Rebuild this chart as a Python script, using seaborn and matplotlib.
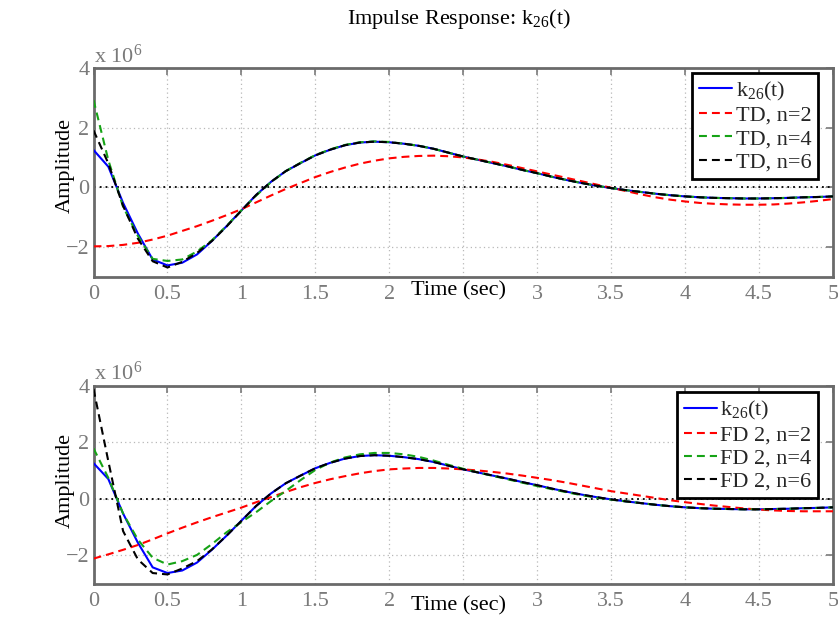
import numpy as np
import pandas as pd
import matplotlib
matplotlib.use("Agg")
import matplotlib.pyplot as plt
import seaborn as sns

# ---- data (amplitudes in units of 1e6) ----
t = np.round(np.arange(51) * 0.1, 1)

k26 = [1.26, 0.70, -0.52, -1.55, -2.42, -2.62, -2.53, -2.25, -1.80, -1.30,
       -0.77, -0.25, 0.19, 0.55, 0.82, 1.08, 1.27, 1.42, 1.51, 1.54,
       1.52, 1.47, 1.40, 1.30, 1.17, 1.04, 0.93, 0.82, 0.71, 0.59,
       0.48, 0.36, 0.25, 0.15, 0.06, -0.02, -0.09, -0.15, -0.21, -0.26,
       -0.30, -0.33, -0.35, -0.36, -0.37, -0.37, -0.36, -0.35, -0.33, -0.32,
       -0.30]

td_n2 = [-1.98, -1.97, -1.93, -1.86, -1.75, -1.62, -1.46, -1.30, -1.12, -0.93,
         -0.73, -0.50, -0.27, -0.05, 0.15, 0.35, 0.52, 0.67, 0.80, 0.90,
         0.98, 1.03, 1.06, 1.07, 1.05, 1.01, 0.94, 0.86, 0.76, 0.65,
         0.54, 0.43, 0.32, 0.21, 0.10, -0.01, -0.12, -0.23, -0.33, -0.41,
         -0.47, -0.52, -0.55, -0.57, -0.58, -0.58, -0.57, -0.54, -0.50, -0.45,
         -0.39]

td_n4 = [2.94, 0.92, -0.65, -1.63, -2.40, -2.47, -2.42, -2.15, -1.78, -1.29,
         -0.77, -0.27, 0.18, 0.55, 0.83, 1.09, 1.28, 1.43, 1.52, 1.55,
         1.53, 1.47, 1.40, 1.30, 1.17, 1.04, 0.93, 0.82, 0.71, 0.59,
         0.48, 0.36, 0.25, 0.15, 0.06, -0.02, -0.09, -0.15, -0.21, -0.26,
         -0.30, -0.33, -0.35, -0.36, -0.37, -0.37, -0.36, -0.35, -0.33, -0.32,
         -0.30]

td_n6 = [1.92, 0.81, -0.62, -1.72, -2.48, -2.69, -2.50, -2.20, -1.80, -1.31,
         -0.78, -0.25, 0.19, 0.55, 0.82, 1.08, 1.27, 1.42, 1.51, 1.54,
         1.52, 1.47, 1.40, 1.30, 1.17, 1.04, 0.93, 0.82, 0.71, 0.59,
         0.48, 0.36, 0.25, 0.15, 0.06, -0.02, -0.09, -0.15, -0.21, -0.26,
         -0.30, -0.33, -0.35, -0.36, -0.37, -0.37, -0.36, -0.35, -0.33, -0.32,
         -0.30]

fd_n2 = [-2.11, -1.96, -1.80, -1.63, -1.43, -1.22, -1.02, -0.83, -0.65, -0.48,
         -0.31, -0.12, 0.06, 0.24, 0.41, 0.56, 0.69, 0.80, 0.90, 0.98,
         1.04, 1.07, 1.09, 1.09, 1.07, 1.04, 1.00, 0.95, 0.89, 0.82,
         0.74, 0.66, 0.57, 0.47, 0.37, 0.27, 0.19, 0.11, 0.03, -0.05,
         -0.12, -0.18, -0.24, -0.29, -0.34, -0.38, -0.41, -0.43, -0.44, -0.44,
         -0.44]

fd_n4 = [1.78, 0.74, -0.52, -1.44, -2.08, -2.32, -2.20, -1.98, -1.60, -1.18,
         -0.82, -0.47, -0.08, 0.28, 0.66, 1.02, 1.28, 1.46, 1.57, 1.62,
         1.62, 1.57, 1.48, 1.35, 1.20, 1.06, 0.93, 0.81, 0.69, 0.57,
         0.45, 0.34, 0.23, 0.13, 0.04, -0.03, -0.09, -0.15, -0.21, -0.26,
         -0.30, -0.33, -0.35, -0.36, -0.37, -0.37, -0.36, -0.35, -0.33, -0.32,
         -0.30]

fd_n6 = [3.88, 1.33, -1.14, -2.14, -2.62, -2.67, -2.46, -2.20, -1.79, -1.30,
         -0.78, -0.25, 0.19, 0.55, 0.82, 1.08, 1.27, 1.42, 1.51, 1.54,
         1.52, 1.47, 1.40, 1.30, 1.17, 1.04, 0.93, 0.82, 0.71, 0.59,
         0.48, 0.36, 0.25, 0.15, 0.06, -0.02, -0.09, -0.15, -0.21, -0.26,
         -0.30, -0.33, -0.35, -0.36, -0.37, -0.37, -0.36, -0.35, -0.33, -0.32,
         -0.30]

x_ticks = [0, 0.5, 1, 1.5, 2, 2.5, 3, 3.5, 4, 4.5, 5]
# the "2.5" label is hidden behind the "Time (sec)" label in the original
x_tick_labels = ["0", "0.5", "1", "1.5", "2", "", "3", "3.5", "4", "4.5", "5"]
y_ticks = [-2, 0, 2, 4]

top_series = [("k$_{\\mathregular{26}}$(t)", k26), ("TD, n=2", td_n2),
              ("TD, n=4", td_n4), ("TD, n=6", td_n6)]
bot_series = [("k$_{\\mathregular{26}}$(t)", k26), ("FD 2, n=2", fd_n2),
              ("FD 2, n=4", fd_n4), ("FD 2, n=6", fd_n6)]

colors = ["#0000ff", "#ff0000", "#16a316", "#000000"]

# ---- style ----
sns.set_theme(style="white")
plt.rcParams["font.family"] = ["Liberation Serif", "DejaVu Serif"]
plt.rcParams["mathtext.fontset"] = "custom"
plt.rcParams["mathtext.rm"] = "Liberation Serif"
plt.rcParams["mathtext.it"] = "Liberation Serif:italic"
plt.rcParams["axes.unicode_minus"] = True

GRAY = "#7a7a7a"
FS = 16

fig = plt.figure(figsize=(8.38, 6.21), dpi=100)
ax_top = fig.add_axes([0.1116, 0.5544, 0.8824, 0.3353])
ax_bot = fig.add_axes([0.1116, 0.0599, 0.8824, 0.3193])


def draw(ax, series, leg_anchor, xl_y, yl_y):
    ax.axhline(0, color="black", ls=(0, (1, 2.2)), lw=1.3, zorder=1.5)
    for i, (name, vals) in enumerate(series):
        df = pd.DataFrame({"t": t, "v": vals})
        sns.lineplot(data=df, x="t", y="v", ax=ax, color=colors[i], lw=1.5,
                     label=name, zorder=3 + i)
        line = ax.get_lines()[-1]
        if i > 0:
            line.set_dashes((3.8, 2.4))
    ax.set_xlim(0, 5)
    ax.set_ylim(-3, 4)
    ax.set_xticks(x_ticks)
    ax.set_xticklabels(x_tick_labels)
    ax.set_yticks(y_ticks)
    ax.grid(True, color="#b8b8b8", ls=(0, (1, 2.5)), lw=0.9)
    ax.tick_params(direction="in", length=5, width=1.2, top=True, right=True,
                   color=GRAY, labelcolor=GRAY, labelsize=FS, pad=6)
    ax.tick_params(axis="y", pad=3)
    for s in ax.spines.values():
        s.set_color("#6a6a6a")
        s.set_linewidth(2)
    ax.set_xlabel("Time (sec)", fontsize=FS, color="black")
    ax.xaxis.label.set_va("center")
    ax.xaxis.set_label_coords(0.493, xl_y)
    ax.set_ylabel("Amplitude", fontsize=FS, color="black")
    ax.yaxis.label.set_va("center")
    ax.yaxis.set_label_coords(-0.038, yl_y)
    ax.text(0.0, 1.004, "x 10$^{\\mathregular{6}}$", transform=ax.transAxes,
            ha="left", va="bottom", fontsize=FS, color=GRAY)
    leg = ax.legend(loc="upper right", bbox_to_anchor=leg_anchor,
                    borderaxespad=0, fontsize=FS, frameon=True, fancybox=False,
                    framealpha=1, edgecolor="black", handlelength=1.5,
                    handletextpad=0.15, labelspacing=0.12, borderpad=0.3)
    leg.get_frame().set_linewidth(2)
    for h in leg.get_lines()[1:]:
        h.set_dashes((3.8, 2.4))


draw(ax_top, top_series, (0.9797, 0.978), -0.069, 0.536)
draw(ax_bot, bot_series, (0.9797, 0.965), -0.112, 0.523)

fig.text(458.5 / 838, 1 - 19 / 621, "Impulse Response: k$_{\\mathregular{26}}$(t)",
         ha="center", va="center", fontsize=FS, color="black")

fig.savefig("out.png", dpi=100)
